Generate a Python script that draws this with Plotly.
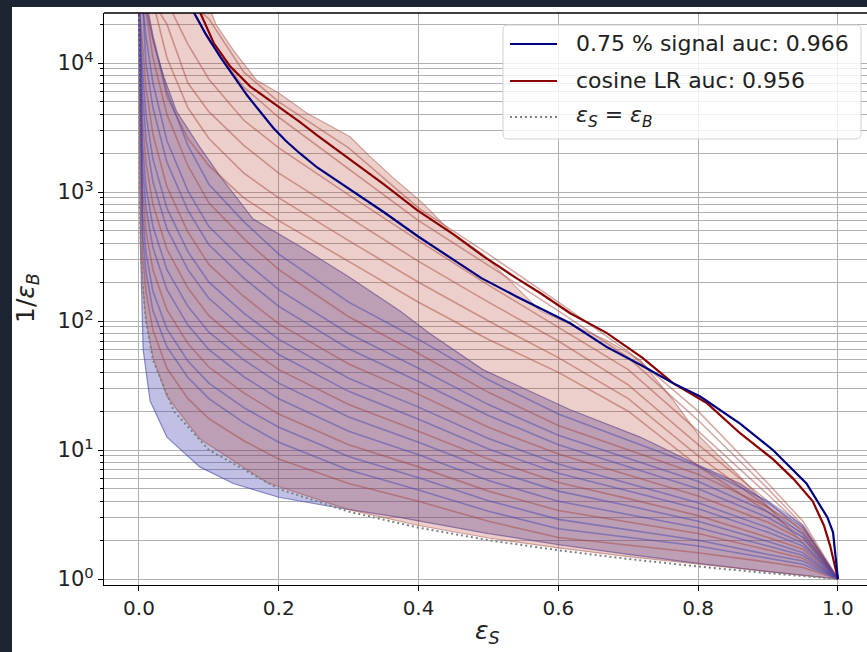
import plotly.graph_objects as go

# ---------------- data ----------------
# common signal-efficiency grid for the faint per-run curves
eps_grid = [0.0, 0.005, 0.01, 0.02, 0.04, 0.07, 0.1, 0.15, 0.2, 0.3, 0.4, 0.5, 0.6, 0.7, 0.8, 0.9, 0.95, 1.0]

# faint curves inside the blue band (top to bottom)
k0 = [3e4, 3e4, 3e4, 16000, 6000, 2300, 1150, 590, 330, 140, 72, 35, 19, 11.9, 7.5, 4.0, 2.6, 1]
k1 = [3e4, 3e4, 25000, 11000, 4000, 1600, 825, 435, 250, 108, 56, 28, 15.5, 10, 6.5, 3.6, 2.4, 1]
k2 = [3e4, 3e4, 16000, 7000, 2500, 1020, 540, 295, 175, 80, 43, 22.5, 13, 8.6, 5.7, 3.3, 2.25, 1]
k3 = [3e4, 3e4, 10000, 4500, 1700, 720, 390, 215, 130, 61, 34, 18.5, 11, 7.4, 5.0, 3.0, 2.1, 1]
k4 = [3e4, 15000, 6500, 2800, 1100, 490, 275, 155, 95, 46.5, 27, 15, 9.3, 6.4, 4.4, 2.75, 2.0, 1]
k5 = [3e4, 9000, 4000, 1800, 750, 345, 200, 115, 72, 36, 21.5, 12.3, 7.8, 5.5, 3.9, 2.5, 1.9, 1]
k6 = [3e4, 5800, 2600, 1200, 520, 250, 150, 87, 55, 28.5, 17.3, 10.2, 6.6, 4.8, 3.5, 2.3, 1.8, 1]
k7 = [3e4, 3700, 1700, 800, 360, 180, 110, 65, 42, 22.5, 14, 8.5, 5.6, 4.2, 3.1, 2.1, 1.7, 1]
k8 = [3e4, 2400, 1100, 540, 250, 130, 82, 50, 33, 18, 11.5, 7.1, 4.8, 3.7, 2.8, 1.95, 1.6, 1]
k9 = [3e4, 1600, 750, 370, 175, 93, 60, 37, 25, 14, 9.2, 5.8, 4.0, 3.16, 2.5, 1.8, 1.52, 1]
k10 = [3e4, 1050, 500, 250, 122, 67, 44, 27.7, 19, 11, 7.4, 4.8, 3.4, 2.77, 2.25, 1.68, 1.45, 1]
k11 = [3e4, 700, 340, 170, 87, 49, 33, 21.3, 15, 8.9, 6.1, 4.05, 2.9, 2.4, 2.0, 1.55, 1.38, 1]
k12 = [3e4, 480, 240, 120, 63, 36.5, 25, 16.3, 11.5, 7.0, 4.9, 3.35, 2.45, 2.1, 1.8, 1.45, 1.3, 1]
k13 = [3e4, 340, 170, 85, 43, 25, 17.5, 11.8, 8.5, 5.5, 4.0, 2.8, 2.1, 1.83, 1.6, 1.35, 1.23, 1]

# faint red curves in the upper (pink) region
u0 = [3e4, 3e4, 3e4, 3e4, 3e4, 3e4, 22000, 8500, 5000, 2200, 750, 330, 140, 58, 20, 5.5, 2.8, 1]
u1 = [3e4, 3e4, 3e4, 3e4, 3e4, 3e4, 15000, 6500, 3800, 1500, 600, 270, 120, 52, 17, 5.0, 2.6, 1]
u2 = [3e4, 3e4, 3e4, 3e4, 3e4, 14000, 7500, 3600, 2200, 950, 420, 190, 90, 42, 14, 4.5, 2.5, 1]
u3 = [3e4, 3e4, 3e4, 3e4, 20000, 7000, 4200, 2300, 1400, 640, 290, 140, 70, 32, 11, 4.0, 2.3, 1]
u4 = [3e4, 3e4, 3e4, 3e4, 11000, 4500, 2600, 1400, 900, 420, 200, 100, 52, 25, 9, 3.6, 2.2, 1]
u5 = [3e4, 3e4, 3e4, 16000, 5500, 2600, 1600, 900, 600, 290, 140, 72, 40, 20, 7.5, 3.3, 2.1, 1]

blue_runs = [k0, k2, k3, k5, k6, k8, k9, k11, k12]
red_runs = [u0, u1, u2, u3, u4, u5, k1, k4, k7, k10, k13]

# red band (envelope of red runs)
red_hi_x = [0.0, 0.098, 0.11, 0.135, 0.168, 0.20, 0.24, 0.268, 0.302, 0.33, 0.363, 0.406, 0.445, 0.492, 0.574, 0.669, 0.717, 0.764, 0.803, 0.86, 0.92, 1.0]
red_hi_y = [30000, 30000, 20000, 12600, 7400, 5850, 4100, 3400, 2680, 1900, 1300, 820, 500, 330, 120, 71, 50, 24.5, 12.6, 6.2, 2.8, 1.0]
red_lo_x = [0.0, 0.00004, 0.001, 0.003, 0.006, 0.01, 0.02, 0.04, 0.087, 0.183, 0.3, 0.4, 0.5, 0.6, 0.7, 0.8, 0.9, 1.0]
red_lo_y = [30000, 26000, 1050, 345, 170, 104, 52, 26, 12.2, 5.6, 3.45, 2.6, 2.08, 1.74, 1.49, 1.3, 1.14, 1.0]

# blue band (envelope of blue runs)
blue_hi_x = [0.0, 0.011, 0.021, 0.036, 0.054, 0.087, 0.12, 0.163, 0.23, 0.3, 0.373, 0.416, 0.492, 0.574, 0.617, 0.717, 0.803, 0.86, 0.95, 1.0]
blue_hi_y = [30000, 25000, 14300, 7700, 4200, 2230, 1240, 620, 380, 220, 120, 80, 42, 26, 20.5, 12.6, 7.5, 5.5, 2.5, 1.0]
blue_lo_x = [0.0, 0.0005, 0.002, 0.006, 0.016, 0.04, 0.087, 0.135, 0.20, 0.28, 0.373, 0.5, 0.6, 0.7, 0.8, 0.9, 1.0]
blue_lo_y = [30000, 3000, 400, 60, 24, 12.6, 7.4, 5.5, 4.3, 3.6, 3.0, 2.25, 1.85, 1.55, 1.32, 1.14, 1.0]

# highlighted curves
signal_x = [0.078, 0.095, 0.117, 0.135, 0.155, 0.175, 0.192, 0.21, 0.23, 0.255, 0.302, 0.35, 0.40, 0.45, 0.49, 0.54, 0.574, 0.617, 0.669, 0.72, 0.764, 0.803, 0.86, 0.907, 0.955, 0.97, 0.985, 0.993, 1.0]
signal_y = [25000, 17000, 11000, 8000, 5600, 4100, 3150, 2500, 2000, 1550, 1050, 700, 450, 300, 215, 155, 126, 96, 63, 45, 33, 26, 16, 10, 5.5, 4.1, 3.0, 2.3, 1.0]
cosine_x = [0.087, 0.107, 0.13, 0.159, 0.197, 0.23, 0.255, 0.302, 0.35, 0.398, 0.45, 0.492, 0.54, 0.574, 0.617, 0.669, 0.72, 0.764, 0.813, 0.86, 0.907, 0.936, 0.964, 0.98, 0.989, 1.0]
cosine_y = [25000, 14300, 9500, 6600, 4700, 3500, 2750, 1800, 1150, 725, 470, 320, 215, 165, 115, 81, 52, 33, 23, 13.5, 8.5, 6.0, 4.0, 2.6, 1.8, 1.0]

# diagonal eps_S = eps_B
diag_x = [0.00004, 0.0001, 0.0002, 0.0005, 0.001, 0.002, 0.005, 0.01, 0.02, 0.05, 0.1, 0.2, 0.3, 0.4, 0.5, 0.6, 0.7, 0.8, 0.9, 1.0]
diag_y = [25000, 10000, 5000, 2000, 1000, 500, 200, 100, 50, 20, 10, 5, 3.33, 2.5, 2.0, 1.67, 1.43, 1.25, 1.11, 1.0]

legend_labels = ["0.75 % signal auc: 0.966", "cosine LR auc: 0.956",
                 "<i>ε</i><sub><i>S</i></sub> = <i>ε</i><sub><i>B</i></sub>"]
x_ticks = [0.0, 0.2, 0.4, 0.6, 0.8, 1.0]
y_ticks = [1, 10, 100, 1000, 10000]

# ---------------- styling ----------------
NAVY = "#000080"
DARKRED = "#8b0000"
DIAG = "#7f7f7f"
FONT = "DejaVu Sans"
TXT = "#222222"
GRID = "#b0b0b0"

W, H = 867, 652
ML, MT, MB = 104, 13, 67
PW, PH = W - ML, H - MT - MB


def fx(px):
    return (px - ML) / PW


def fy(py):
    return (MT + PH - py) / PH


fig = go.Figure()


def band(xh, yh, xl, yl, fillc, linec):
    fig.add_trace(go.Scatter(
        x=list(xh) + list(xl)[::-1], y=list(yh) + list(yl)[::-1],
        mode="lines", fill="toself", fillcolor=fillc,
        line=dict(color=linec, width=1.2), hoverinfo="skip", showlegend=False))


band(blue_hi_x, blue_hi_y, blue_lo_x, blue_lo_y, "rgba(70,70,175,0.34)", "rgba(70,70,170,0.6)")
band(red_hi_x, red_hi_y, red_lo_x, red_lo_y, "rgba(175,55,35,0.24)", "rgba(160,70,60,0.45)")

for run in red_runs:
    fig.add_trace(go.Scatter(x=eps_grid, y=run, mode="lines",
                             line=dict(color="rgba(165,65,55,0.45)", width=1.6),
                             hoverinfo="skip", showlegend=False))
for run in blue_runs:
    fig.add_trace(go.Scatter(x=eps_grid, y=run, mode="lines",
                             line=dict(color="rgba(70,70,175,0.48)", width=1.6),
                             hoverinfo="skip", showlegend=False))

fig.add_trace(go.Scatter(x=diag_x, y=diag_y, mode="lines",
                         line=dict(color=DIAG, width=2, dash="2px,3px"), showlegend=False))
fig.add_trace(go.Scatter(x=cosine_x, y=cosine_y, mode="lines",
                         line=dict(color=DARKRED, width=2.2), showlegend=False))
fig.add_trace(go.Scatter(x=signal_x, y=signal_y, mode="lines",
                         line=dict(color=NAVY, width=2.2), showlegend=False))

minor_vals = [m * 10 ** e for e in range(0, 5) for m in range(2, 10)]

shapes = [
    # dark frame strips of the screenshot
    dict(type="rect", xref="paper", yref="paper", x0=fx(-5), x1=fx(12), y0=fy(H + 5), y1=fy(-5),
         fillcolor="#1c2331", line=dict(width=0), layer="above"),
    dict(type="rect", xref="paper", yref="paper", x0=fx(-5), x1=fx(W + 5), y0=fy(7), y1=fy(-5),
         fillcolor="#1c2331", line=dict(width=0), layer="above"),
    # top spine
    dict(type="line", xref="paper", yref="paper", x0=0, x1=1, y0=1, y1=1,
         line=dict(color="black", width=1.3), layer="above"),
]

# legend box (rounded)
bx0, by0, bx1, by1, r = 503, 25, 861, 139, 5
rx, ry = r / PW, r / PH
X0, X1, Y0, Y1 = fx(bx0), fx(bx1), fy(by1), fy(by0)
path = (f"M {X0+rx},{Y0} L {X1-rx},{Y0} Q {X1},{Y0} {X1},{Y0+ry} L {X1},{Y1-ry} "
        f"Q {X1},{Y1} {X1-rx},{Y1} L {X0+rx},{Y1} Q {X0},{Y1} {X0},{Y1-ry} "
        f"L {X0},{Y0+ry} Q {X0},{Y0} {X0+rx},{Y0} Z")
shapes.append(dict(type="path", xref="paper", yref="paper", path=path,
                   fillcolor="rgba(255,255,255,0.8)", line=dict(color="#d0d0d0", width=1), layer="above"))

rows_py = [44, 81, 117]
row_styles = [dict(color=NAVY, width=2.2), dict(color=DARKRED, width=2.2),
              dict(color=DIAG, width=2, dash="2px,3px")]
annotations = []
for py, st, lab in zip(rows_py, row_styles, legend_labels):
    shapes.append(dict(type="line", xref="paper", yref="paper", x0=fx(510), x1=fx(557),
                       y0=fy(py), y1=fy(py), line=st, layer="above"))
    annotations.append(dict(xref="paper", yref="paper", x=fx(574), y=fy(py), text=lab,
                            showarrow=False, xanchor="left", yanchor="middle",
                            font=dict(family=FONT, size=22, color=TXT)))

annotations.append(dict(xref="paper", yref="paper", x=fx(488), y=fy(632),
                        text="<i>ε</i><sub><i>S</i></sub>", showarrow=False, xanchor="center", yanchor="middle",
                        font=dict(family=FONT, size=25, color=TXT)))
annotations.append(dict(xref="paper", yref="paper", x=fx(27), y=fy(298),
                        text="1/<i>ε</i><sub><i>B</i></sub>", showarrow=False, textangle=-90,
                        xanchor="center", yanchor="middle",
                        font=dict(family=FONT, size=25, color=TXT)))

fig.update_layout(
    width=W, height=H,
    margin=dict(l=ML, r=0, t=MT, b=MB, pad=0),
    paper_bgcolor="white", plot_bgcolor="white",
    showlegend=False,
    shapes=shapes, annotations=annotations,
    font=dict(family=FONT, color=TXT),
    xaxis=dict(range=[-0.05, 1.0416], tickmode="array", tickvals=x_ticks,
               ticktext=[f"{v:.1f}" for v in x_ticks],
               ticks="outside", ticklen=5, tickwidth=1.2, tickcolor="black",
               showline=True, linecolor="black", linewidth=1.3, mirror=False,
               showgrid=True, gridcolor=GRID, gridwidth=1, zeroline=False,
               tickfont=dict(family=FONT, size=20, color=TXT)),
    yaxis=dict(type="log", range=[-0.0465, 4.388], tickmode="array", tickvals=y_ticks,
               ticktext=[f"10<sup>{i}</sup>" for i in range(len(y_ticks))],
               ticks="outside", ticklen=5, tickwidth=1.2, tickcolor="black",
               showline=True, linecolor="black", linewidth=1.3, mirror=False,
               showgrid=True, gridcolor=GRID, gridwidth=1, zeroline=False,
               tickfont=dict(family=FONT, size=21, color=TXT),
               minor=dict(tickmode="array", tickvals=minor_vals, ticks="outside", ticklen=3,
                          tickcolor="black", showgrid=True, gridcolor=GRID, gridwidth=1)),
)

fig.write_html("out.html", config={"displayModeBar": False},
               post_script="document.body.style.margin='0';document.body.style.background='white';")
